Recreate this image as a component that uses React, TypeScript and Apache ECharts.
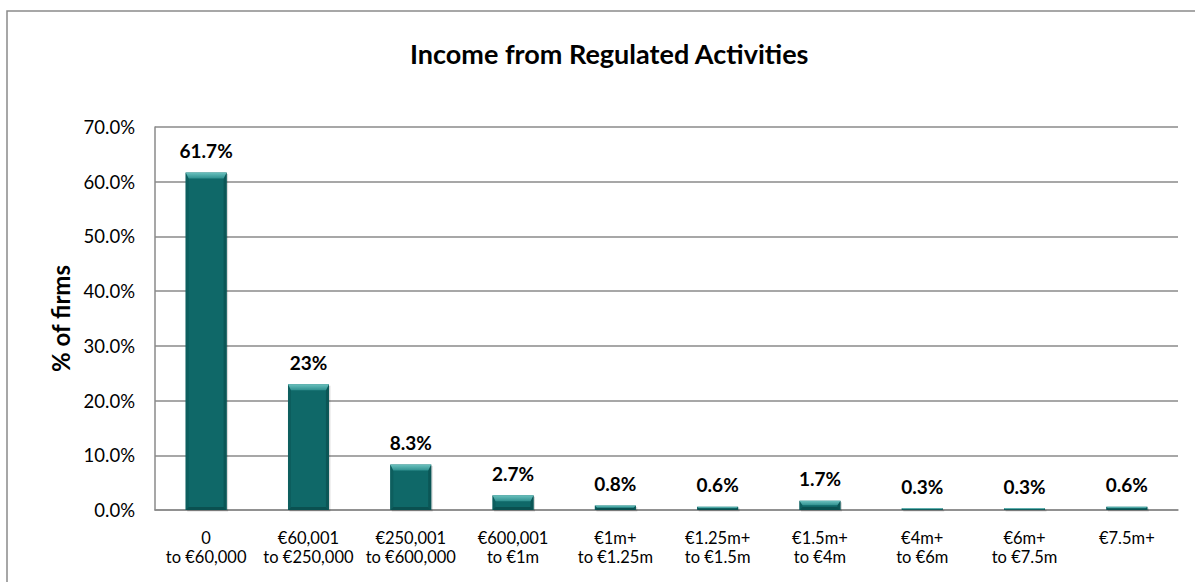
import React, { useEffect, useRef } from "react";
import * as echarts from "echarts";

const categories = [
  "0\nto €60,000",
  "€60,001\nto €250,000",
  "€250,001\nto €600,000",
  "€600,001\nto €1m",
  "€1m+\nto €1.25m",
  "€1.25m+\nto €1.5m",
  "€1.5m+\nto €4m",
  "€4m+\nto €6m",
  "€6m+\nto €7.5m",
  "€7.5m+",
];
const values = [61.7, 23, 8.3, 2.7, 0.8, 0.6, 1.7, 0.3, 0.3, 0.6];
const valueLabels = ["61.7%", "23%", "8.3%", "2.7%", "0.8%", "0.6%", "1.7%", "0.3%", "0.3%", "0.6%"];

const FONT = "Lato, 'Liberation Sans', sans-serif";

export default function App() {
  const ref = useRef<HTMLDivElement>(null);
  useEffect(() => {
    if (!ref.current) return;
    const chart = echarts.init(ref.current, undefined, { renderer: "svg" });
    const option: any = {
      animation: false,
      backgroundColor: "#ffffff",
      title: {
        text: "Income from Regulated Activities",
        left: 405,
        top: 35,
        textStyle: { fontFamily: FONT, fontWeight: "bold", fontSize: 27, color: "#000" },
      },
      graphic: [
        {
          type: "rect",
          shape: { x: 7, y: 11, width: 1220, height: 620 },
          style: { fill: "none", stroke: "#8a8a8a", lineWidth: 1.5 },
          silent: true,
        },
      ],
      grid: { left: 155, right: 17, top: 127, bottom: 72, containLabel: false },
      xAxis: {
        type: "category",
        data: categories,
        axisLine: { show: true, lineStyle: { color: "#8a8a8a", width: 1.5 } },
        axisTick: { show: false },
        axisLabel: {
          interval: 0,
          fontFamily: FONT,
          fontSize: 16.5,
          color: "#000",
          lineHeight: 19,
          margin: 18,
          verticalAlign: "top",
        },
      },
      yAxis: {
        type: "value",
        min: 0,
        max: 70,
        interval: 10,
        name: "% of firms",
        nameLocation: "middle",
        nameGap: 80,
        nameRotate: 90,
        nameTextStyle: { fontFamily: FONT, fontWeight: "bold", fontSize: 24, color: "#000" },
        axisLine: { show: true, lineStyle: { color: "#8a8a8a", width: 1.5 } },
        axisTick: { show: false },
        splitLine: { show: true, lineStyle: { color: "#8a8a8a", width: 1.5 } },
        axisLabel: {
          fontFamily: FONT,
          fontSize: 18.5,
          color: "#000",
          margin: 20,
          formatter: (v: number) => v.toFixed(1) + "%",
        },
      },
      series: [
        {
          type: "custom",
          data: values.map((v, i) => [i, v]),
          encode: { x: 0, y: 1 },
          z: 3,
          renderItem: (params: any, api: any) => {
            const idx = api.value(0);
            const v = api.value(1);
            const base = api.coord([idx, 0]);
            const top = api.coord([idx, v]);
            const bw = api.size([1, 0])[0] * 0.4;
            const l = base[0] - bw / 2;
            const r = base[0] + bw / 2;
            const t = top[1];
            const b = base[1];
            const h = b - t;
            const bv = Math.max(1, Math.min(6, h / 2));
            const sv = Math.max(1, Math.min(3, h / 2));
            return {
              type: "group",
              children: [
                {
                  type: "rect",
                  shape: { x: l + 1.5, y: t + 1.5, width: bw, height: h },
                  style: { fill: "rgba(0,0,0,0.15)" },
                },
                {
                  type: "rect",
                  shape: { x: l, y: t, width: bw, height: h },
                  style: { fill: "#0f6868" },
                },
                {
                  type: "polygon",
                  shape: { points: [[l, t], [l + sv, t + bv], [l + sv, b - sv], [l, b]] },
                  style: { fill: "#0d5e5e" },
                },
                {
                  type: "polygon",
                  shape: { points: [[r, t], [r - sv, t + bv], [r - sv, b - sv], [r, b]] },
                  style: { fill: "#0b5656" },
                },
                {
                  type: "polygon",
                  shape: { points: [[l, b], [l + sv, b - sv], [r - sv, b - sv], [r, b]] },
                  style: { fill: "#0a5050" },
                },
                {
                  type: "polygon",
                  shape: { points: [[l, t], [r, t], [r - sv, t + bv], [l + sv, t + bv]] },
                  style: {
                    fill: new echarts.graphic.LinearGradient(0, 0, 0, 1, [
                      { offset: 0, color: "#6cc2bf" },
                      { offset: 1, color: "#2f908f" },
                    ]),
                  },
                },
                {
                  type: "text",
                  x: base[0],
                  y: t - 22,
                  style: {
                    text: valueLabels[idx],
                    fontFamily: FONT,
                    fontWeight: "bold",
                    fontSize: 19,
                    fill: "#000",
                    align: "center",
                    verticalAlign: "middle",
                  },
                },
              ],
            };
          },
        },
      ],
    };
    chart.setOption(option);
    return () => chart.dispose();
  }, []);
  return (
    <div
      ref={ref}
      style={{ position: "fixed", left: 0, top: 0, width: 1195, height: 582, background: "#fff" }}
    />
  );
}
